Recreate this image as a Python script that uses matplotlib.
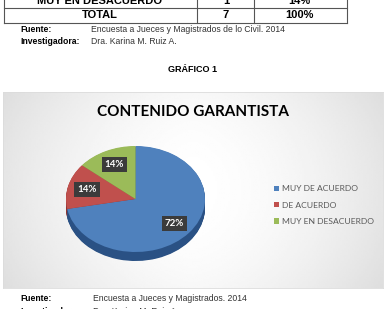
import numpy as np
import matplotlib
matplotlib.use("Agg")
import matplotlib.pyplot as plt

# datos del documento
table_rows = ["MUY EN DESACUERDO", "TOTAL"]
table_n = ["1", "7"]
table_pct = ["14%", "100%"]

categorias = ["MUY DE ACUERDO", "DE ACUERDO", "MUY EN DESACUERDO"]
porcentajes = [72, 14, 14]
colores = ["#4f81bd", "#c0504d", "#9bbb59"]
colores_lado = ["#2a5184", "#8c3331", "#6e8a3a"]

titulo = "CONTENIDO GARANTISTA"
fuente_1 = "Encuesta a Jueces y Magistrados de lo Civil. 2014"
fuente_2 = "Encuesta a Jueces y Magistrados. 2014"
investigadora = "Dra. Karina M. Ruiz A."

W, H = 385, 309
fig = plt.figure(figsize=(W / 100, H / 100), dpi=100)
fig.patch.set_facecolor("white")

# capa del documento en pixeles
doc = fig.add_axes([0, 0, 1, 1])
doc.set_xlim(0, W)
doc.set_ylim(H, 0)
doc.axis("off")

# tabla (la fila superior queda cortada como en el original)
lc = "#555555"
for y in [7.5, 23]:
    doc.plot([4, 347], [y, y], color=lc, lw=0.8)
for x in [4, 197, 254, 347]:
    doc.plot([x, x], [0, 23], color=lc, lw=0.8)
row_y = [0.5, 15.5]
for i, y in enumerate(row_y):
    doc.text(100, y, table_rows[i], ha="center", va="center", fontsize=8,
             fontweight="bold", family="Liberation Sans")
    doc.text(226, y, table_n[i], ha="center", va="center", fontsize=8,
             fontweight="bold", family="Liberation Sans")
    doc.text(299, y, table_pct[i], ha="center", va="center", fontsize=8,
             fontweight="bold", family="Liberation Sans")

def pie_fuente(y, texto, x_txt):
    doc.text(20, y, "Fuente:", ha="left", va="center", fontsize=6.2,
             fontweight="bold", family="Liberation Sans")
    doc.text(x_txt, y, texto, ha="left", va="center", fontsize=6.2,
             color="#333333", family="Liberation Sans")
    doc.text(20, y + 13, "Investigadora:", ha="left", va="center", fontsize=6.2,
             fontweight="bold", family="Liberation Sans")
    doc.text(x_txt, y + 13, investigadora, ha="left", va="center", fontsize=6.2,
             color="#333333", family="Liberation Sans")

pie_fuente(29, fuente_1, 91)
pie_fuente(298.5, fuente_2, 93)

doc.text(193, 70, "GRÁFICO 1", ha="center", va="center", fontsize=6.5,
         fontweight="bold", family="Liberation Sans")

# fondo del grafico con degradado
x0, y0, x1, y1 = 3, 92, 383, 288
bg = fig.add_axes([x0 / W, 1 - y1 / H, (x1 - x0) / W, (y1 - y0) / H])
gx, gy = np.meshgrid(np.linspace(-1, 1, 200), np.linspace(-1, 1, 120))
grad = 1 - 0.10 * np.abs(gx) ** 1.6 - 0.03 * np.abs(gy) ** 2
bg.imshow(grad, cmap="gray", vmin=0, vmax=1, aspect="auto",
          extent=[0, 1, 0, 1], interpolation="bilinear")
bg.set_xticks([])
bg.set_yticks([])
for s in bg.spines.values():
    s.set_color("#dcdcdc")
    s.set_linewidth(0.6)

bg.text(0.5, 1 - (112 - y0) / (y1 - y0), titulo, transform=bg.transAxes,
        ha="center", va="center", fontsize=11, fontweight="bold",
        family="Lato", color="black")

# pastel con efecto 3D
cx, cy, rx, ry = 135.5, 199, 69.5, 53
xl, yl = (-1.1, 1.1), (-1.35, 1.1)
pie_ax = fig.add_axes([(cx + xl[0] * rx) / W, (H - cy + yl[0] * ry) / H,
                       (xl[1] - xl[0]) * rx / W, (yl[1] - yl[0]) * ry / H])
pie_ax.patch.set_alpha(0)

prof = 0.17
for off in np.linspace(-prof, -0.01, 14):
    pie_ax.pie(porcentajes, colors=colores_lado, startangle=90, counterclock=False,
               center=(0, off), wedgeprops=dict(linewidth=0))

wedges, _, autotexts = pie_ax.pie(
    porcentajes, colors=colores, startangle=90, counterclock=False,
    autopct=lambda p: f"{p:.0f}%", pctdistance=0.72,
    wedgeprops=dict(linewidth=0))
for t in autotexts:
    t.set_color("white")
    t.set_fontsize(7)
    t.set_fontweight("bold")
    t.set_family("Lato")
    t.set_bbox(dict(boxstyle="square,pad=0.3", fc="#3b3b3b", ec="none"))

pie_ax.set_aspect("auto")
pie_ax.set_xlim(*xl)
pie_ax.set_ylim(*yl)
pie_ax.axis("off")

fig.legend(wedges, categorias, loc="upper left",
           bbox_to_anchor=(270 / W, 1 - 181 / H), frameon=False,
           handlelength=0.6, handleheight=0.6,
           handletextpad=0.35, labelspacing=1.1, borderpad=0,
           labelcolor="#595959", prop={"family": "Lato", "size": 6.1})

fig.savefig("out.png", dpi=100)
